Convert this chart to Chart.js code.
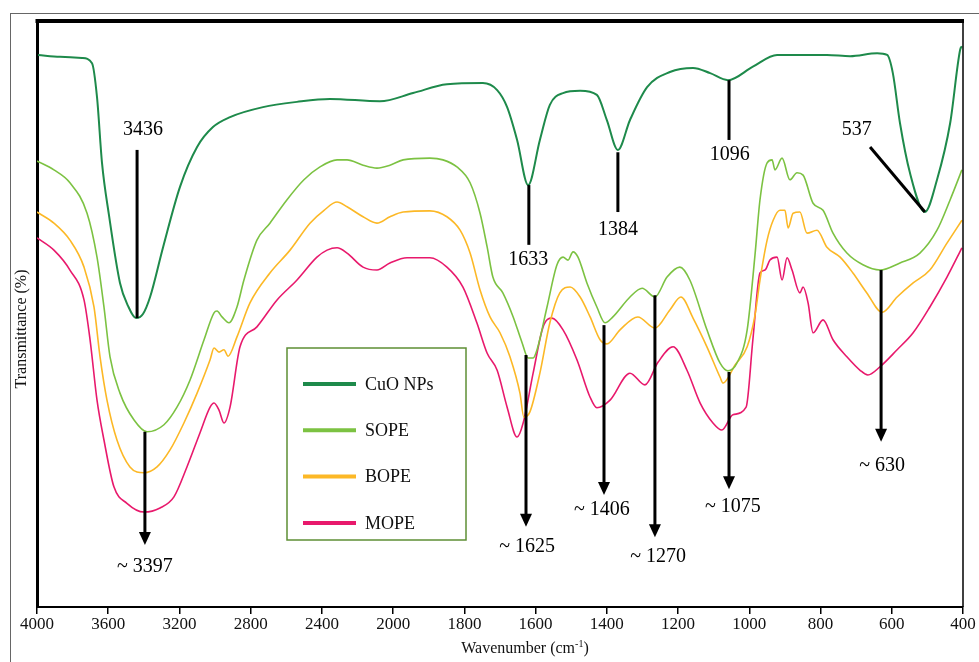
<!DOCTYPE html>
<html>
<head>
<meta charset="utf-8">
<title>FTIR spectra</title>
<script src="https://cdn.jsdelivr.net/npm/chart.js@4/dist/chart.umd.min.js"></script>
<style>
  html, body { margin: 0; padding: 0; background: #fff; }
  #chart { display: block; }
</style>
</head>
<body>
<canvas id="chart" width="979" height="662"></canvas>
<script>
// x axis is split at 2000 cm-1 (400 per division above, 200 per division below)
const TICK_LABELS = [4000, 3600, 3200, 2800, 2400, 2000, 1800, 1600, 1400, 1200, 1000, 800, 600, 400];
const SERIES_NAMES = ['CuO NPs', 'SOPE', 'BOPE', 'MOPE'];

const CUO_WN = [3994, 3871, 3747, 3691, 3663, 3635, 3596, 3534, 3489, 3444, 3405, 3365, 3292, 3197, 3101, 3012, 2916, 2731, 2540, 2355, 2074,
  1944, 1849, 1748, 1708, 1680, 1652, 1621, 1588, 1560, 1523, 1475, 1428, 1400, 1369, 1335, 1287, 1223, 1158, 1110, 1060, 990, 922,
  782, 717, 641, 613, 597, 577, 549, 507, 473, 436, 408, 403];
const CUO_T = [94.2, 93.9, 93.7, 92.8, 87.0, 75.8, 66.9, 55.3, 51.4, 49.3, 50.0, 52.9, 61.4, 71.7, 78.5, 81.9, 83.6, 85.3, 86.2, 86.7, 86.3,
  87.7, 89.2, 89.4, 88.2, 85.3, 79.7, 72.0, 79.7, 85.7, 87.7, 88.1, 87.4, 83.1, 78.0, 83.1, 88.7, 91.3, 92.0, 91.1, 89.9, 92.2, 94.2,
  94.2, 94.0, 94.5, 94.2, 91.1, 82.6, 74.1, 67.4, 72.9, 82.6, 95.1, 95.7];

const SOPE_WN = [4000, 3905, 3815, 3719, 3663, 3624, 3590, 3534, 3455, 3382, 3287, 3214, 3141, 3062, 3006, 2989, 2961, 2922, 2877, 2838,
  2765, 2692, 2596, 2501, 2411, 2315, 2259, 2169, 2091, 2018, 1972, 1897, 1860, 1821, 1784, 1756, 1736, 1720, 1692, 1663, 1638, 1621,
  1607, 1596, 1568, 1540, 1523, 1509, 1495, 1481, 1456, 1428, 1405, 1383, 1335, 1301, 1265, 1231, 1195, 1167, 1119, 1082, 1060, 1035,
  1006, 984, 970, 950, 936, 928, 908, 886, 866, 849, 821, 793, 765, 726, 681, 633, 577, 521, 473, 436, 403];
const SOPE_T = [76.1, 74.6, 72.4, 67.2, 59.7, 51.2, 42.7, 36.5, 31.9, 29.9, 31.1, 34.1, 38.7, 45.6, 50.2, 50.5, 49.5, 48.5, 51.2, 55.8,
  62.6, 65.5, 69.5, 72.9, 75.1, 76.3, 76.3, 75.4, 74.9, 75.4, 76.3, 76.6, 76.3, 75.1, 72.4, 67.2, 61.4, 56.3, 53.6, 49.5, 45.1, 42.5,
  42.5, 43.9, 51.2, 58.4, 59.7, 59.2, 60.6, 59.7, 55.3, 51.2, 48.5, 49.5, 52.9, 54.4, 52.9, 56.3, 58.0, 55.8, 47.3, 41.6, 40.3, 41.6,
  47.3, 60.1, 69.5, 75.8, 76.3, 74.6, 76.6, 72.9, 74.1, 73.7, 68.9, 67.7, 63.8, 60.4, 58.4, 57.5, 58.7, 60.4, 64.3, 69.5, 74.6];

const BOPE_WN = [4000, 3905, 3815, 3736, 3680, 3646, 3607, 3551, 3478, 3399, 3326, 3253, 3175, 3101, 3028, 3006, 2978, 2950, 2927, 2877,
  2804, 2692, 2579, 2467, 2388, 2315, 2259, 2169, 2091, 2018, 1972, 1897, 1849, 1812, 1784, 1756, 1728, 1700, 1672, 1644, 1633, 1616,
  1588, 1560, 1532, 1503, 1475, 1447, 1419, 1400, 1363, 1313, 1265, 1223, 1192, 1158, 1119, 1082, 1074, 1040, 1006, 984, 970, 950,
  933, 914, 900, 891, 877, 858, 838, 810, 782, 745, 709, 670, 627, 585, 540, 493, 445, 403];
const BOPE_T = [67.4, 65.5, 62.6, 58.0, 51.2, 42.7, 35.3, 28.5, 23.9, 22.9, 23.9, 26.8, 31.4, 36.5, 42.2, 44.2, 43.5, 43.9, 42.8, 46.1,
  51.9, 57.0, 60.9, 65.5, 67.7, 69.1, 68.3, 66.6, 65.5, 66.6, 67.4, 67.6, 66.6, 64.3, 60.4, 54.1, 49.5, 46.8, 42.7, 36.5, 32.4, 33.3,
  39.9, 48.5, 53.6, 54.6, 52.9, 49.5, 45.6, 44.9, 47.3, 49.5, 47.6, 50.7, 52.9, 49.3, 44.4, 39.2, 38.2, 41.3, 44.4, 49.8, 55.8, 62.6,
  66.0, 67.7, 67.7, 64.7, 67.2, 67.4, 63.8, 64.3, 61.4, 59.7, 57.0, 53.6, 50.3, 52.9, 55.3, 57.5, 62.1, 66.0];

const MOPE_WN = [4000, 3905, 3815, 3736, 3702, 3663, 3624, 3568, 3495, 3399, 3309, 3231, 3158, 3085, 3028, 3006, 2978, 2950, 2916, 2860,
  2765, 2652, 2540, 2428, 2371, 2315, 2259, 2169, 2091, 2018, 1961, 1897, 1849, 1804, 1765, 1736, 1708, 1680, 1652, 1635, 1607, 1579,
  1554, 1523, 1484, 1447, 1428, 1391, 1335, 1293, 1256, 1214, 1175, 1138, 1102, 1077, 1046, 1009, 990, 970, 956, 942, 922, 908, 894,
  880, 858, 849, 835, 821, 793, 765, 726, 689, 667, 633, 585, 540, 493, 445, 403];
const MOPE_T = [63.0, 60.9, 57.5, 52.4, 45.6, 35.3, 28.5, 20.5, 17.7, 16.2, 16.9, 18.8, 23.9, 29.7, 34.1, 34.8, 33.6, 31.4, 34.1, 44.4,
  47.8, 52.4, 55.8, 59.7, 60.9, 61.3, 60.4, 58.0, 57.5, 58.7, 59.6, 59.6, 58.0, 54.6, 48.5, 43.3, 40.4, 34.1, 29.0, 31.4, 39.9, 47.8,
  49.3, 47.3, 42.2, 35.8, 34.0, 35.3, 39.9, 37.9, 41.8, 44.4, 40.4, 34.8, 31.4, 30.2, 32.8, 34.1, 45.6, 57.0, 57.5, 59.2, 59.7, 55.8, 59.6,
  57.5, 53.6, 54.6, 51.9, 46.8, 49.0, 45.6, 42.7, 40.4, 39.6, 41.0, 43.9, 46.8, 51.2, 56.3, 61.3];

// peak marks: line from [wn, T] to [wn, T], label at [wn, T]
const PEAK_MARKS = [
  { text: '3436', from: [3438, 78.0], to: [3438, 49.3], at: [3405, 81.4], arrow: false },
  { text: '1633', from: [1619, 72.0], to: [1619, 61.8], at: [1621, 59.2], arrow: false },
  { text: '1384', from: [1369, 77.6], to: [1369, 67.4], at: [1369, 64.3], arrow: false },
  { text: '1096', from: [1057, 89.9], to: [1057, 79.7], at: [1055, 77.1], arrow: false },
  { text: '537', from: [661, 78.5], to: [507, 67.4], at: [698, 81.4], arrow: false },
  { text: '~ 3397', from: [3394, 29.9], to: [3394, 10.6], at: [3394, 6.8], arrow: true },
  { text: '~ 1625', from: [1627, 43.0], to: [1627, 13.7], at: [1624, 10.2], arrow: true },
  { text: '~ 1406', from: [1408, 48.1], to: [1408, 19.1], at: [1414, 16.6], arrow: true },
  { text: '~ 1270', from: [1265, 53.2], to: [1265, 11.9], at: [1256, 8.5], arrow: true },
  { text: '~ 1075', from: [1057, 40.1], to: [1057, 20.1], at: [1046, 17.1], arrow: true },
  { text: '~ 630', from: [630, 57.5], to: [630, 28.2], at: [627, 24.1], arrow: true }
];

const COLORS = ['#1e8a4b', '#7cc242', '#fcb826', '#e8196c'];
const SERIF = '"Liberation Serif", "Times New Roman", serif';

function toAxis(w) {
    return w >= 2000 ? (4000 - w) / 400 : 5 + (2000 - w) / 200;
}

function toPoints(wn, t) {
    return wn.map((w, i) => ({ x: toAxis(w), y: t[i] }));
}

const frameAndMarks = {
    id: 'frameAndMarks',
    beforeDraw(chart) {
        const ctx = chart.ctx;
        ctx.save();
        ctx.strokeStyle = '#666';
        ctx.lineWidth = 1;
        ctx.strokeRect(10.5, 13.5, chart.width + 20, chart.height + 20);
        ctx.restore();
    },
    afterDatasetsDraw(chart) {
        const { ctx, chartArea: a, scales: { x, y } } = chart;
        ctx.save();

        // top and right frame lines
        ctx.strokeStyle = '#000';
        ctx.lineWidth = 4;
        ctx.beginPath();
        ctx.moveTo(a.left - 1.5, a.top);
        ctx.lineTo(a.right + 1, a.top);
        ctx.stroke();
        ctx.lineWidth = 1.5;
        ctx.beginPath();
        ctx.moveTo(a.right, a.top);
        ctx.lineTo(a.right, a.bottom);
        ctx.stroke();

        // peak marks
        ctx.fillStyle = '#000';
        ctx.font = '20px ' + SERIF;
        ctx.textAlign = 'center';
        ctx.textBaseline = 'middle';
        PEAK_MARKS.forEach(m => {
            const x1 = x.getPixelForValue(toAxis(m.from[0])), y1 = y.getPixelForValue(m.from[1]);
            const x2 = x.getPixelForValue(toAxis(m.to[0])), y2 = y.getPixelForValue(m.to[1]);
            const ang = Math.atan2(y2 - y1, x2 - x1);
            const head = m.arrow ? 12 : 0;
            ctx.lineWidth = 3;
            ctx.beginPath();
            ctx.moveTo(x1, y1);
            ctx.lineTo(x2 - head * Math.cos(ang), y2 - head * Math.sin(ang));
            ctx.stroke();
            if (m.arrow) {
                ctx.beginPath();
                ctx.moveTo(x2, y2);
                ctx.lineTo(x2 - 13 * Math.cos(ang) + 6 * Math.sin(ang), y2 - 13 * Math.sin(ang) - 6 * Math.cos(ang));
                ctx.lineTo(x2 - 13 * Math.cos(ang) - 6 * Math.sin(ang), y2 - 13 * Math.sin(ang) + 6 * Math.cos(ang));
                ctx.closePath();
                ctx.fill();
            }
            ctx.fillText(m.text, x.getPixelForValue(toAxis(m.at[0])), y.getPixelForValue(m.at[1]));
        });

        // legend box
        const bx = a.left + 250, by = a.top + 327, bw = 179, bh = 192;
        ctx.fillStyle = '#fff';
        ctx.fillRect(bx, by, bw, bh);
        ctx.strokeStyle = '#5e8f35';
        ctx.lineWidth = 1.5;
        ctx.strokeRect(bx, by, bw, bh);
        ctx.font = '18px ' + SERIF;
        ctx.textAlign = 'left';
        chart.data.datasets.forEach((ds, i) => {
            const ry = by + 36 + i * 46.3;
            ctx.strokeStyle = ds.borderColor;
            ctx.lineWidth = 4;
            ctx.beginPath();
            ctx.moveTo(bx + 16, ry);
            ctx.lineTo(bx + 69, ry);
            ctx.stroke();
            ctx.fillStyle = '#111';
            ctx.fillText(ds.label, bx + 78, ry + 1);
        });

        // axis titles
        ctx.fillStyle = '#111';
        ctx.font = '16px ' + SERIF;
        ctx.textAlign = 'left';
        const t1 = 'Wavenumber (cm', sup = '-1', t2 = ')';
        const w1 = ctx.measureText(t1).width, w2 = ctx.measureText(t2).width;
        ctx.font = '10px ' + SERIF;
        const ws = ctx.measureText(sup).width;
        let tx = 525 - (w1 + ws + w2) / 2;
        ctx.font = '16px ' + SERIF;
        ctx.fillText(t1, tx, 649);
        ctx.font = '10px ' + SERIF;
        ctx.fillText(sup, tx + w1, 644);
        ctx.font = '16px ' + SERIF;
        ctx.fillText(t2, tx + w1 + ws, 649);

        ctx.translate(22, 329);
        ctx.rotate(-Math.PI / 2);
        ctx.textAlign = 'center';
        ctx.fillText('Transmittance (%)', 0, 0);
        ctx.restore();
    }
};

const seriesData = [
    toPoints(CUO_WN, CUO_T),
    toPoints(SOPE_WN, SOPE_T),
    toPoints(BOPE_WN, BOPE_T),
    toPoints(MOPE_WN, MOPE_T)
];

new Chart(document.getElementById('chart'), {
    type: 'line',
    data: {
        datasets: SERIES_NAMES.map((name, i) => ({
            label: name,
            data: seriesData[i],
            borderColor: COLORS[i],
            borderWidth: i === 0 ? 2 : 1.6,
            pointRadius: 0,
            cubicInterpolationMode: 'monotone',
            fill: false
        }))
    },
    options: {
        responsive: false,
        animation: false,
        layout: { padding: { top: 21, right: 16, bottom: 0, left: 0 } },
        plugins: {
            legend: { display: false },
            tooltip: { enabled: false }
        },
        scales: {
            x: {
                type: 'linear',
                min: 0,
                max: TICK_LABELS.length - 1,
                afterFit: s => { s.height = 55; },
                afterBuildTicks: s => { s.ticks = TICK_LABELS.map(w => ({ value: toAxis(w) })); },
                grid: { display: true, drawOnChartArea: false, drawTicks: true, tickLength: 7, color: '#000', lineWidth: 1.5 },
                border: { display: true, color: '#000', width: 2 },
                ticks: {
                    autoSkip: false,
                    maxRotation: 0,
                    padding: 0,
                    color: '#111',
                    font: { family: SERIF, size: 17 },
                    callback: (v, i) => TICK_LABELS[i]
                }
            },
            y: {
                min: 0,
                max: 100,
                afterFit: s => { s.width = 37; },
                grid: { display: false },
                border: { display: true, color: '#000', width: 3 },
                ticks: { display: false }
            }
        }
    },
    plugins: [frameAndMarks]
});
</script>
</body>
</html>
